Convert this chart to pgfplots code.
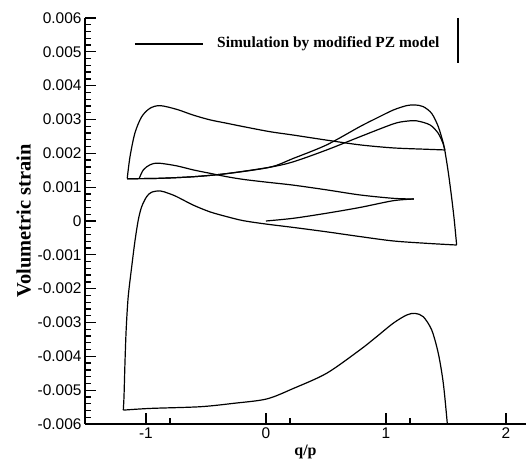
\documentclass[border=0pt]{standalone}
\usepackage{fontspec}
\setmainfont{Liberation Serif}
\newfontfamily\tickfont{Liberation Sans}
\usepackage{pgfplots}
\pgfplotsset{compat=1.18}
\begin{document}
\begin{tikzpicture}
\begin{axis}[
  scale only axis, width=441bp, height=406bp,
  at={(0,0)}, anchor=south west,
  xmin=-1.508, xmax=2.167, ymin=-0.006, ymax=0.006,
  axis x line*=bottom, axis y line*=left,
  axis line style={line width=1.6bp},
  tick align=inside,
  major tick length=11bp, minor tick length=6bp,
  every tick/.style={black, line width=1.3bp},
  xtick={-1,0,1,2}, xticklabels={-1,0,1,2},
  minor xtick={-0.8,0.2,1.2},
  ytick={-0.006,-0.005,-0.004,-0.003,-0.002,-0.001,0,0.001,0.002,0.003,0.004,0.005,0.006},
  yticklabels={-0.006,-0.005,-0.004,-0.003,-0.002,-0.001,0,0.001,0.002,0.003,0.004,0.005,0.006},
  minor y tick num=4,
  scaled y ticks=false,
  ticklabel style={font=\tickfont\fontsize{15.5}{16}\selectfont},
  xlabel={q/p}, ylabel={Volumetric strain},
  xlabel style={font=\bfseries\fontsize{16}{16}\selectfont},
  ylabel style={font=\bfseries\fontsize{20.5}{21}\selectfont},
  cycle list={{black,solid}},
  every axis plot/.append style={line width=1.2bp, no markers, smooth, tension=0.5},
]
% A: initial loading
\addplot coordinates {(0,0) (0.228,0.00008) (0.506,0.00023) (0.783,0.00040) (1.061,0.00060) (1.233,0.00065)};
% B: unloading
\addplot coordinates {(1.233,0.00065) (1.061,0.00067) (0.783,0.00077) (0.506,0.00092) (0.228,0.00106) (0,0.00115) (-0.189,0.00123) (-0.328,0.00131) (-0.467,0.00141) (-0.606,0.00151) (-0.744,0.00163) (-0.897,0.00171) (-0.967,0.00166) (-1.022,0.00151) (-1.056,0.00126)};
% E1
\addplot coordinates {(-1.156,0.00125) (-0.9,0.00126) (-0.6,0.00131) (-0.328,0.00140) (0.033,0.00159) (0.228,0.00175) (0.506,0.00210) (0.783,0.00249) (1.061,0.00287) (1.17,0.00295) (1.256,0.00296) (1.367,0.00284) (1.436,0.00259) (1.478,0.00227) (1.49,0.00210)};
% D
\addplot coordinates {(1.49,0.00210) (1.339,0.00212) (1.061,0.00216) (0.783,0.00225) (0.506,0.00239) (0.228,0.00254) (0.033,0.00264) (-0.189,0.00279) (-0.328,0.00289) (-0.467,0.00299) (-0.606,0.00313) (-0.744,0.00330) (-0.883,0.00341) (-0.967,0.00333) (-1.036,0.00308) (-1.092,0.00260) (-1.133,0.00190) (-1.156,0.00126)};
% E2
\addplot coordinates {(-1.156,0.00125) (-0.9,0.00126) (-0.6,0.00131) (-0.328,0.00140) (0.033,0.00159) (0.228,0.00185) (0.506,0.00225) (0.783,0.00279) (0.922,0.00304) (1.061,0.00328) (1.172,0.00341) (1.242,0.00343) (1.311,0.00338) (1.381,0.00318) (1.436,0.00279) (1.478,0.00230) (1.49,0.00210) (1.519,0.00145) (1.547,0.00070) (1.569,0.00003) (1.589,-0.00071)};
% F
\addplot coordinates {(1.589,-0.00071) (1.339,-0.00066) (1.061,-0.00059) (0.783,-0.00046) (0.506,-0.00032) (0.228,-0.00019) (0,-0.00009) (-0.189,0.00001) (-0.328,0.00013) (-0.467,0.00027) (-0.606,0.00047) (-0.744,0.00072) (-0.814,0.00082) (-0.883,0.00089) (-0.953,0.00085) (-0.994,0.00072) (-1.036,0.00042) (-1.064,0.00003) (-1.092,-0.00060) (-1.117,-0.00130) (-1.148,-0.00224) (-1.165,-0.00322) (-1.175,-0.00420) (-1.183,-0.00519) (-1.189,-0.00559)};
% G
\addplot coordinates {(-1.189,-0.00559) (-0.967,-0.00554) (-0.55,-0.00549) (-0.272,-0.00539) (0.006,-0.00526) (0.228,-0.00495) (0.506,-0.00450) (0.783,-0.00381) (0.922,-0.00342) (1.061,-0.00302) (1.172,-0.00278) (1.242,-0.00273) (1.311,-0.00283) (1.381,-0.00322) (1.436,-0.00391) (1.478,-0.00480) (1.511,-0.00598) (1.515,-0.0062)};
% legend
\draw[line width=1.1bp] (axis cs:-1.092,0.00523) -- (axis cs:-0.525,0.00523);
\node[anchor=west, inner sep=0pt, font=\bfseries\fontsize{15.5}{16}\selectfont] at (axis cs:-0.408,0.00523) {Simulation by modified PZ model};
\draw[line width=1.3bp] (axis cs:1.6,0.006) -- (axis cs:1.6,0.00467);
\end{axis}
\pgfresetboundingbox
\path[use as bounding box] (-85bp,-39bp) rectangle (441bp,424bp);
\end{tikzpicture}
\end{document}
